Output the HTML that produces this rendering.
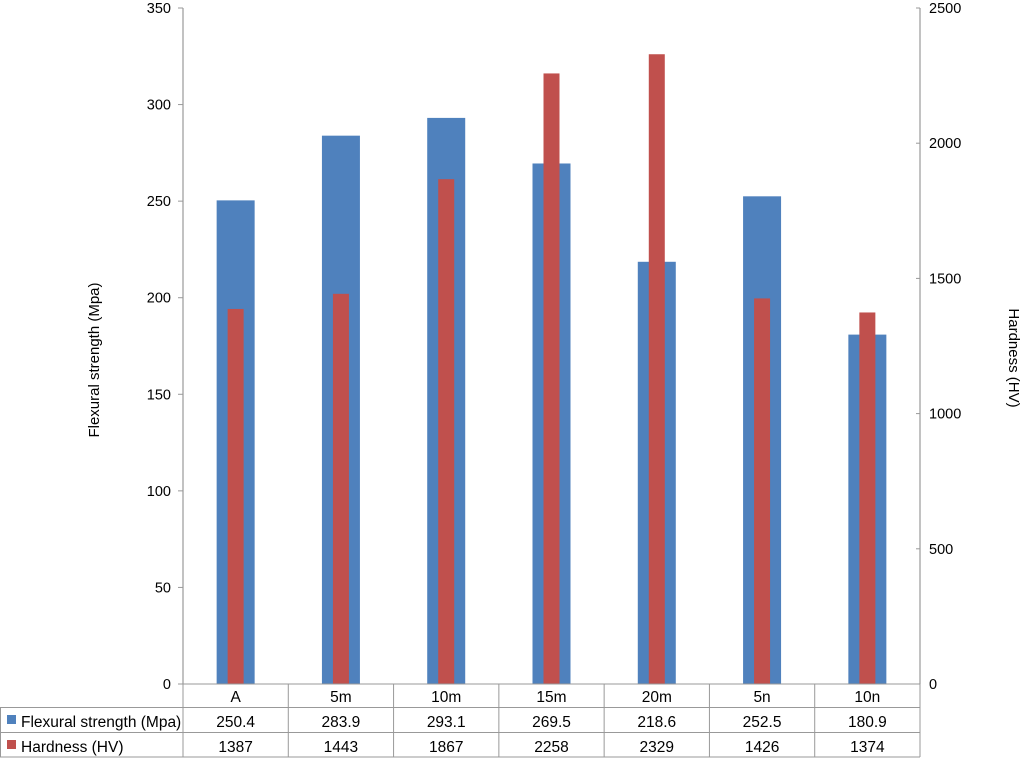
<!DOCTYPE html>
<html><head><meta charset="utf-8">
<style>
body{margin:0;background:#fff;font-family:"Liberation Sans",sans-serif;}
svg text{font-family:"Liberation Sans",sans-serif;fill:#000;}
</style></head>
<body>
<svg id="chart" width="1024" height="758" xmlns="http://www.w3.org/2000/svg">
<g id="g"></g>
</svg>
<script>
const categories=["A","5m","10m","15m","20m","5n","10n"];
const flexural=[250.4,283.9,293.1,269.5,218.6,252.5,180.9];
const hardness=[1387,1443,1867,2258,2329,1426,1374];
const leftTicks=[0,50,100,150,200,250,300,350];
const rightTicks=[0,500,1000,1500,2000,2500];
const NS="http://www.w3.org/2000/svg";
const g=document.getElementById('g');
const X0=183,X1=920,Y0=684,Y1=8;
const cw=(X1-X0)/categories.length;
const yL=v=>Y0-(v/350)*(Y0-Y1);
const yR=v=>Y0-(v/2500)*(Y0-Y1);
const xc=i=>X0+cw*(i+0.5);
function el(t,a){const e=document.createElementNS(NS,t);for(const k in a)e.setAttribute(k,a[k]);g.appendChild(e);return e;}
function txt(s,a){const e=el('text',a);e.textContent=s;return e;}
let e;
e=el('line',{x1:X0,y1:Y1,x2:X0,y2:Y0,stroke:'#999','stroke-width':1.2});

e=el('line',{x1:X1,y1:Y1,x2:X1,y2:Y0,stroke:'#999','stroke-width':1.2});

leftTicks.forEach(v=>{
 el('line',{x1:X0-5,y1:yL(v),x2:X0,y2:yL(v),stroke:'#999'});
 e=txt(v,{x:171,y:yL(v)+5,'text-anchor':'end','font-size':14.5});
 
});
rightTicks.forEach(v=>{
 el('line',{x1:X1-4,y1:yR(v),x2:X1,y2:yR(v),stroke:'#999'});
 e=txt(v,{x:929,y:yR(v)+5,'font-size':14.5});
 
});
categories.forEach((c,i)=>{
 const x=xc(i);
 e=el('rect',{x:x-19,y:yL(flexural[i]),width:38,height:Y0-yL(flexural[i]),fill:'#4f81bd'});
 
 e=el('rect',{x:x-8,y:yR(hardness[i]),width:16,height:Y0-yR(hardness[i]),fill:'#c0504d'});
 
});
el('line',{x1:X0,y1:Y0,x2:X1,y2:Y0,stroke:'#999'});
[707.5,732.5,757].forEach(y=>el('line',{x1:0,y1:y,x2:X1,y2:y,stroke:'#999'}));
el('line',{x1:0.5,y1:707.5,x2:0.5,y2:757,stroke:'#999'});
for(let i=0;i<=categories.length;i++){el('line',{x1:X0+cw*i,y1:Y0,x2:X0+cw*i,y2:757,stroke:'#999'});}
categories.forEach((c,i)=>{
 e=txt(c,{x:xc(i),y:702,'text-anchor':'middle','font-size':15.5});
 
 e=txt(flexural[i].toFixed(1),{x:xc(i),y:727,'text-anchor':'middle','font-size':15.5});
 
 e=txt(hardness[i],{x:xc(i),y:752,'text-anchor':'middle','font-size':15.5});
 
});
e=el('rect',{x:7,y:715,width:9,height:9,fill:'#4f81bd'});

e=txt('Flexural strength (Mpa)',{x:21,y:727,'font-size':15.5});

e=el('rect',{x:7,y:740,width:9,height:9,fill:'#c0504d'});

e=txt('Hardness (HV)',{x:21,y:752,'font-size':15.5});

e=txt('Flexural strength (Mpa)',{x:0,y:0,'font-size':15,'text-anchor':'middle',transform:'translate(99,360) rotate(-90)'});

e=txt('Hardness (HV)',{x:0,y:0,'font-size':15,'text-anchor':'middle',transform:'translate(1009,358) rotate(90)'});

</script>
</body></html>
